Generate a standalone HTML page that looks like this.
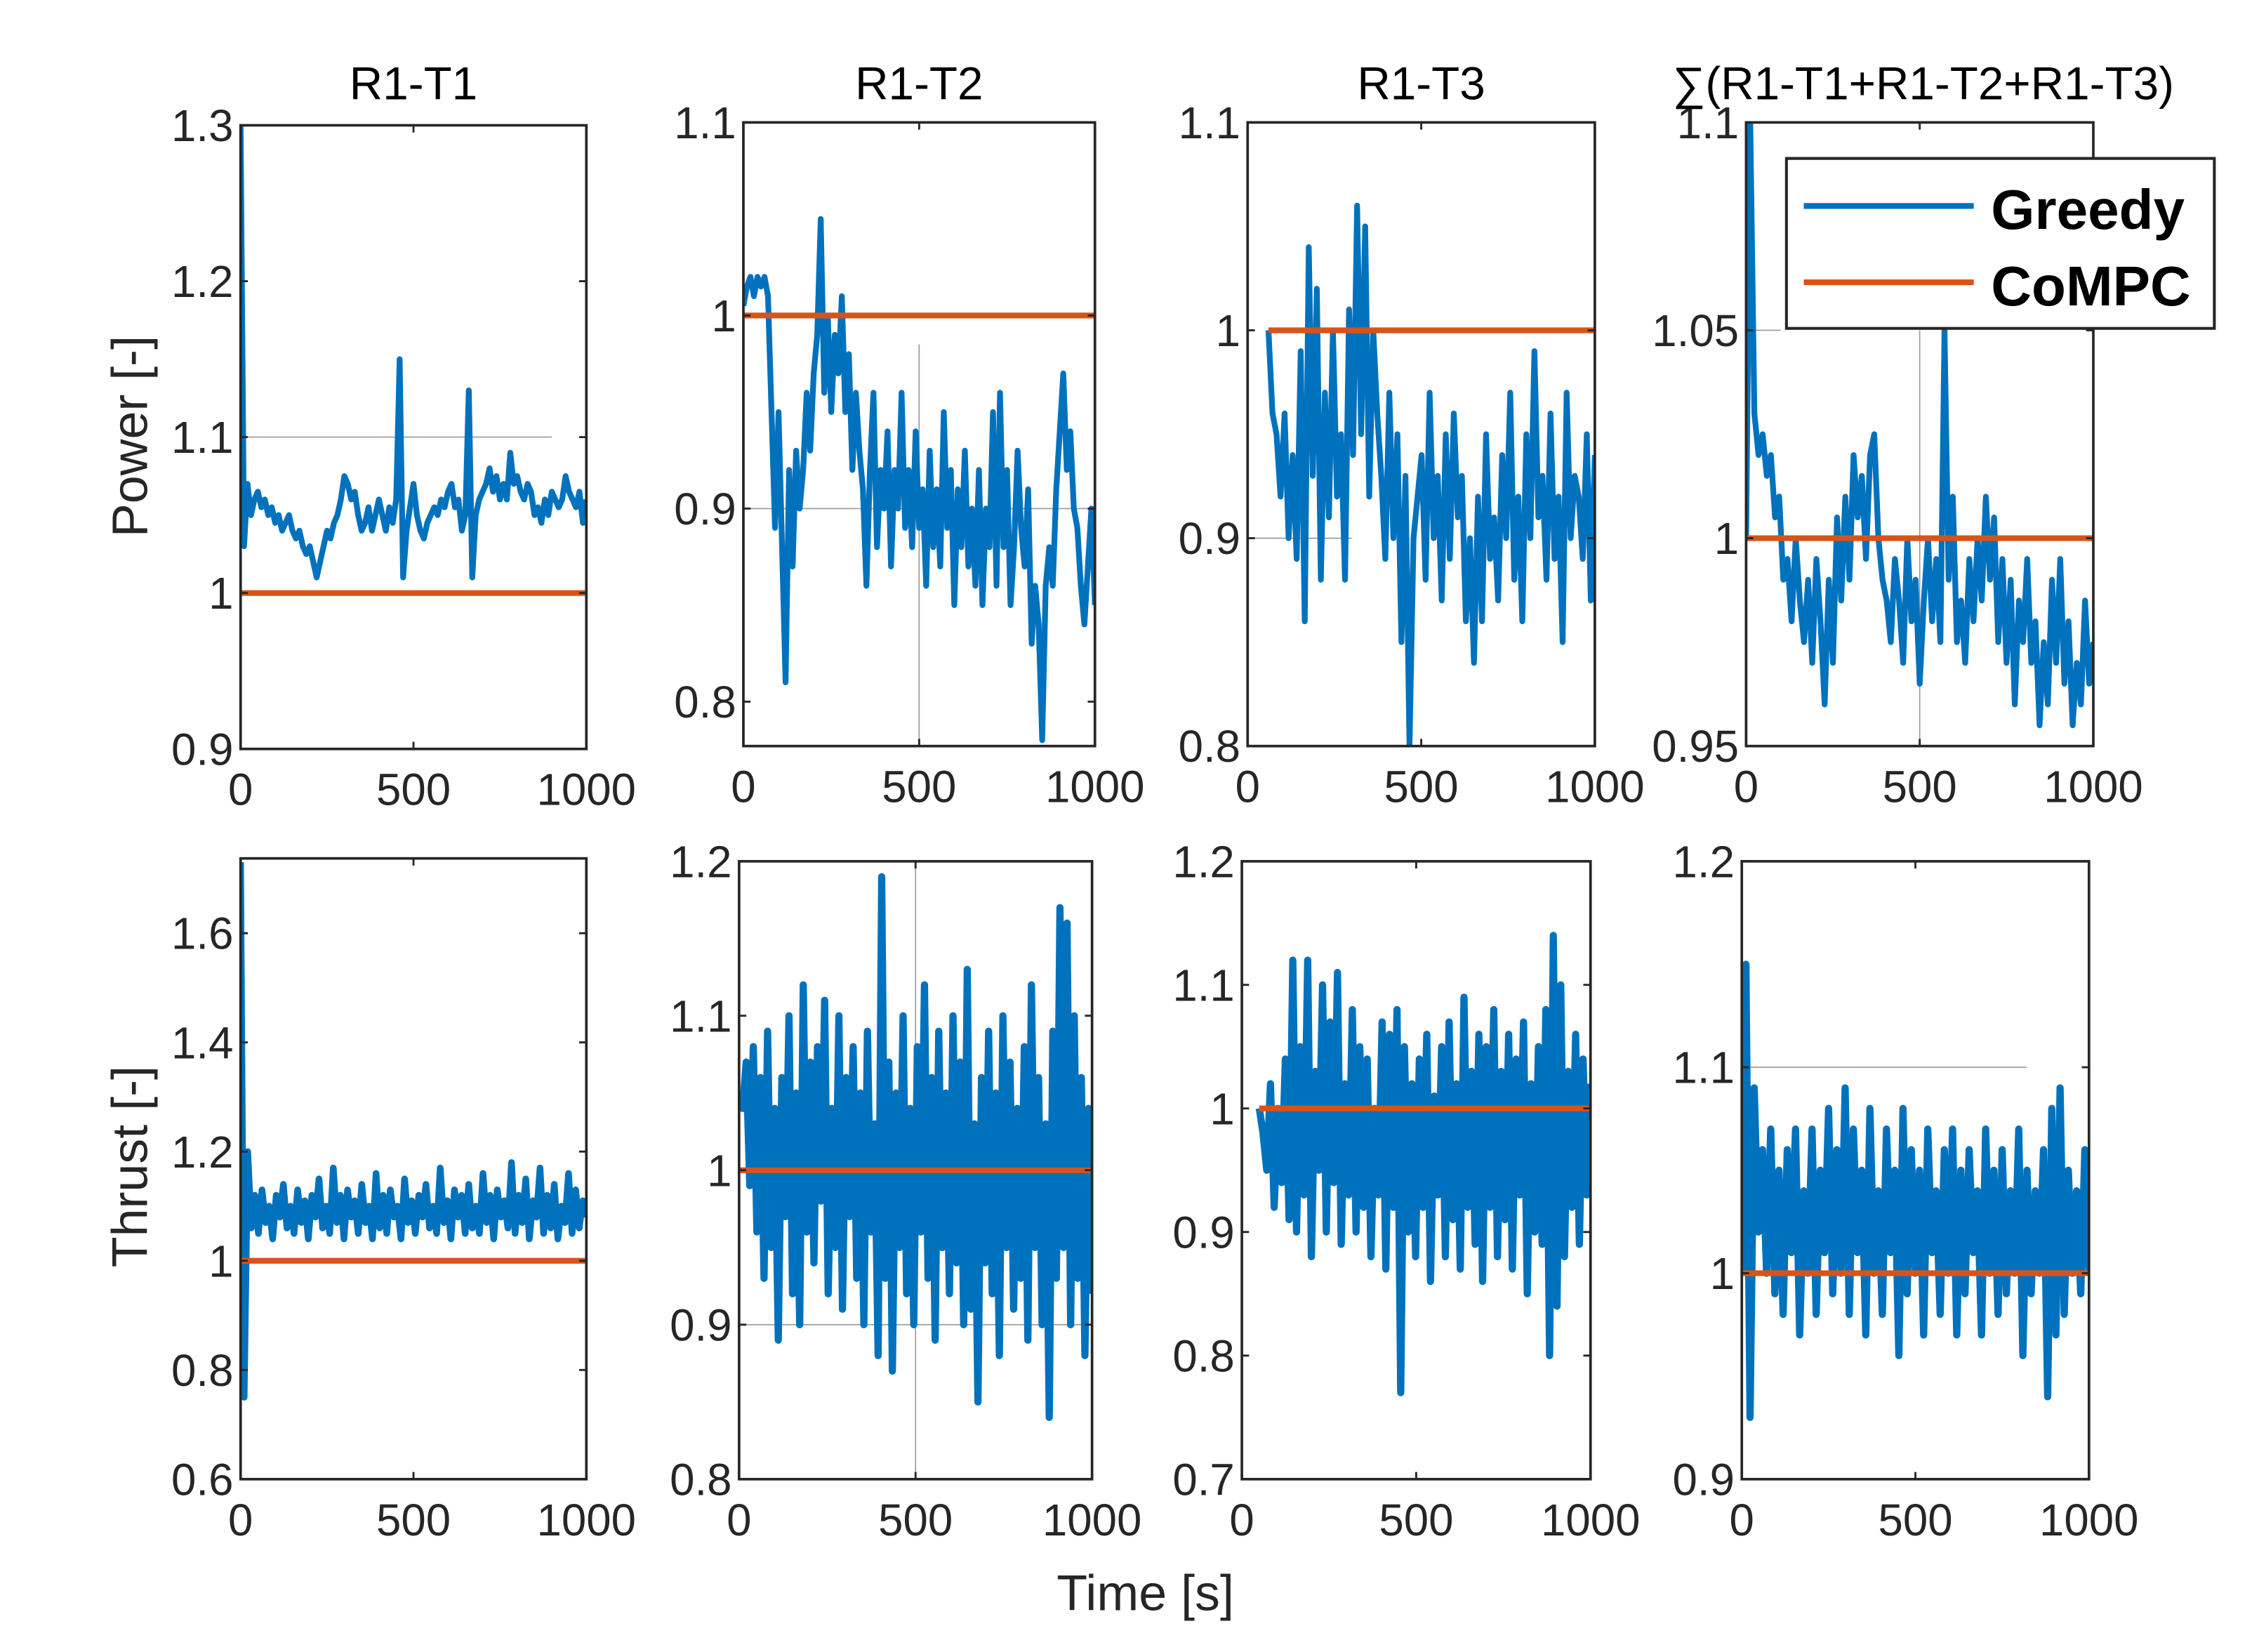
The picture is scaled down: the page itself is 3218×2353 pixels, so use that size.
<!DOCTYPE html>
<html><head><meta charset="utf-8"><style>
html,body{margin:0;padding:0;background:#fff;}
svg{display:block;}
text{font-family:"Liberation Sans",Arial,sans-serif;fill:#262626;}
</style></head><body>
<svg id="chart" width="3218" height="2353" viewBox="0 0 1568 1147" preserveAspectRatio="none" xmlns="http://www.w3.org/2000/svg">
<rect x="0" y="0" width="1568" height="1147" fill="#fff"/>
<text x="0" y="0" font-size="35" text-anchor="middle" transform="translate(102,303) rotate(-90)">Power [-]</text>
<text x="0" y="0" font-size="35" text-anchor="middle" transform="translate(102,810) rotate(-90)">Thrust [-]</text>
<text x="795" y="1118" font-size="35" text-anchor="middle">Time [s]</text>
<g id="panels"></g>
<g>
<rect x="1240" y="110" width="297" height="118" fill="#fff" stroke="#262626" stroke-width="2"/>
<line x1="1252" y1="143" x2="1370" y2="143" stroke="#0072BD" stroke-width="4"/>
<text x="1382" y="159" font-size="39" font-weight="bold" style="fill:#000">Greedy</text>
<line x1="1252" y1="196" x2="1370" y2="196" stroke="#D95319" stroke-width="4"/>
<text x="1382" y="212" font-size="39" font-weight="bold" style="fill:#000">CoMPC</text>
</g>
</svg>
<script>
// ---- data ----
const panelTitles = ["R1-T1","R1-T2","R1-T3","\u2211(R1-T1+R1-T2+R1-T3)"];
const xTicks = [0,500,1000];
const compcLevel = [1,1,1,1,1,1,1,1];
const startTimes = [0,0,60,0,0,0,50,0];
const yLims = [[0.9,1.3],[0.777,1.1],[0.8,1.1],[0.95,1.1],[0.6,1.737],[0.8,1.2],[0.7,1.2],[0.9,1.2]];
const yTicksP1 = [0.9,1,1.1,1.2,1.3];
const yTicksP2 = [0.8,0.9,1,1.1];
const yTicksP3 = [0.8,0.9,1,1.1];
const yTicksP4 = [0.95,1,1.05,1.1];
const yTicksT1 = [0.6,0.8,1,1.2,1.4,1.6];
const yTicksT2 = [0.8,0.9,1,1.1,1.2];
const yTicksT3 = [0.7,0.8,0.9,1,1.1,1.2];
const yTicksT4 = [0.9,1,1.1,1.2];
const greedyP1 = [1.30,1.03,1.07,1.05,1.06,1.065,1.055,1.06,1.05,1.055,1.045,1.05,1.04,1.045,1.05,1.04,1.035,1.04,1.03,1.025,1.03,1.02,1.01,1.02,1.03,1.04,1.035,1.045,1.05,1.06,1.075,1.07,1.06,1.065,1.05,1.04,1.045,1.055,1.04,1.05,1.06,1.05,1.04,1.055,1.045,1.06,1.15,1.01,1.04,1.055,1.07,1.05,1.04,1.035,1.045,1.05,1.055,1.05,1.06,1.055,1.065,1.07,1.055,1.06,1.04,1.05,1.13,1.01,1.05,1.06,1.065,1.07,1.08,1.065,1.075,1.06,1.07,1.06,1.09,1.07,1.075,1.065,1.06,1.07,1.065,1.05,1.055,1.045,1.06,1.05,1.065,1.06,1.055,1.06,1.075,1.065,1.06,1.055,1.065,1.045,1.06];
const greedyP2 = [1.005,1.015,1.02,1.01,1.02,1.015,1.02,1.01,0.95,0.89,0.95,0.88,0.81,0.92,0.87,0.93,0.9,0.92,0.96,0.93,0.97,0.99,1.05,0.96,1.0,0.95,0.99,0.97,1.01,0.95,0.98,0.92,0.96,0.93,0.91,0.86,0.92,0.96,0.88,0.92,0.9,0.94,0.87,0.92,0.9,0.96,0.89,0.92,0.88,0.94,0.89,0.91,0.86,0.93,0.88,0.91,0.87,0.95,0.89,0.92,0.85,0.91,0.88,0.93,0.87,0.9,0.86,0.92,0.85,0.9,0.88,0.95,0.86,0.96,0.88,0.92,0.85,0.88,0.93,0.89,0.87,0.91,0.83,0.86,0.84,0.78,0.86,0.88,0.86,0.91,0.94,0.97,0.92,0.94,0.9,0.89,0.86,0.84,0.87,0.9,0.85];
const greedyP3 = [1.0,0.96,0.95,0.92,0.96,0.9,0.94,0.89,0.99,0.86,1.04,0.93,1.02,0.88,0.97,0.91,1.0,0.92,0.95,0.88,1.01,0.94,1.06,0.95,1.05,0.92,1.0,0.96,0.93,0.89,0.97,0.9,0.95,0.85,0.93,0.8,0.9,0.92,0.94,0.88,0.97,0.9,0.93,0.87,0.95,0.89,0.96,0.91,0.93,0.86,0.9,0.84,0.92,0.86,0.95,0.89,0.91,0.87,0.94,0.9,0.97,0.88,0.92,0.86,0.95,0.9,0.99,0.91,0.93,0.88,0.96,0.89,0.92,0.85,0.97,0.9,0.93,0.92,0.89,0.95,0.87,0.94];
const greedyP4 = [1.0,1.1,1.03,1.02,1.025,1.015,1.02,1.005,1.01,0.99,0.995,0.98,1.0,0.985,0.975,0.99,0.97,0.995,0.98,0.96,0.99,0.97,1.005,0.985,1.01,0.99,1.02,1.005,1.015,0.995,1.02,1.025,1.0,0.99,0.985,0.975,0.995,0.985,0.97,1.0,0.98,0.99,0.965,0.985,1.0,0.98,0.995,0.975,1.05,0.99,1.01,0.975,0.985,0.97,0.995,0.98,1.0,0.985,1.01,0.99,1.005,0.975,0.995,0.97,0.99,0.96,0.985,0.975,0.995,0.97,0.98,0.955,0.975,0.96,0.99,0.97,0.995,0.965,0.98,0.955,0.97,0.96,0.985,0.965,0.975];
const greedyT1 = [1.73,0.75,1.2,1.06,1.12,1.05,1.13,1.07,1.1,1.04,1.12,1.08,1.14,1.06,1.1,1.05,1.13,1.07,1.11,1.04,1.12,1.08,1.15,1.06,1.1,1.05,1.17,1.07,1.12,1.04,1.13,1.08,1.11,1.05,1.14,1.07,1.1,1.04,1.16,1.06,1.12,1.05,1.13,1.08,1.1,1.04,1.15,1.07,1.11,1.05,1.12,1.08,1.14,1.06,1.1,1.05,1.17,1.07,1.11,1.04,1.13,1.08,1.12,1.05,1.14,1.06,1.1,1.05,1.16,1.07,1.12,1.04,1.13,1.08,1.11,1.06,1.18,1.05,1.12,1.07,1.15,1.04,1.11,1.08,1.17,1.05,1.12,1.06,1.14,1.04,1.1,1.07,1.16,1.05,1.13,1.06,1.11,1.08];
const greedyT2 = [1.05,1.04,1.07,0.99,1.08,0.96,1.06,0.93,1.09,0.95,1.04,0.89,1.06,0.97,1.1,0.92,1.05,0.9,1.12,0.96,1.07,0.94,1.08,0.98,1.11,0.92,1.04,0.95,1.1,0.91,1.06,0.97,1.08,0.93,1.05,0.9,1.09,0.96,1.03,0.88,1.19,0.93,1.07,0.87,1.05,0.95,1.1,0.92,1.04,0.9,1.08,0.96,1.12,0.93,1.06,0.89,1.09,0.95,1.05,0.92,1.1,0.94,1.07,0.9,1.13,0.91,1.03,0.85,1.06,0.94,1.09,0.92,1.05,0.88,1.1,0.95,1.07,0.91,1.04,0.93,1.08,0.89,1.12,0.95,1.06,0.9,1.03,0.84,1.09,0.93,1.17,0.95,1.16,0.9,1.1,0.93,1.06,0.88,1.04,0.92];
const greedyT3 = [1.0,0.98,0.95,1.02,0.92,1.0,0.94,1.04,0.91,1.12,0.9,1.05,0.93,1.12,0.88,1.03,0.95,1.1,0.9,1.07,0.94,1.11,0.89,1.02,0.93,1.08,0.9,1.05,0.92,1.04,0.88,1.0,0.93,1.07,0.87,1.06,0.92,1.08,0.77,1.05,0.9,1.02,0.88,1.04,0.92,1.06,0.86,1.01,0.93,1.05,0.88,1.07,0.91,1.02,0.87,1.09,0.92,1.03,0.89,1.06,0.86,1.05,0.92,1.08,0.88,1.03,0.91,1.06,0.87,1.04,0.93,1.07,0.85,1.02,0.9,1.05,0.89,1.08,0.8,1.14,0.84,1.1,0.88,1.03,0.92,1.06,0.89,1.04,0.93,1.02];
const greedyT4 = [1.0,1.15,0.93,1.09,1.02,1.06,1.0,1.07,0.99,1.05,0.98,1.06,1.01,1.07,0.97,1.04,1.0,1.07,0.98,1.05,1.01,1.08,0.99,1.06,1.0,1.09,0.98,1.07,1.01,1.05,0.97,1.08,1.0,1.04,0.98,1.07,1.01,1.05,0.96,1.08,0.99,1.06,1.0,1.05,0.97,1.07,1.01,1.04,0.98,1.06,1.0,1.07,0.97,1.05,0.99,1.06,1.01,1.04,0.97,1.07,1.0,1.05,0.98,1.06,0.99,1.04,1.0,1.07,0.96,1.05,0.99,1.04,1.0,1.06,0.94,1.08,0.97,1.09,0.98,1.05,1.0,1.04,0.99,1.06,1.0];

// ---- layout ----
const boxes = [[167,87,407,520],[516,85,760,518],[866,85,1107,518],[1212,85,1453,518],
               [167,596,407,1027],[513,598,758,1027],[862,598,1104,1027],[1209,598,1450,1027]];
const series = [greedyP1,greedyP2,greedyP3,greedyP4,greedyT1,greedyT2,greedyT3,greedyT4];
const tickSets = [yTicksP1,yTicksP2,yTicksP3,yTicksP4,yTicksT1,yTicksT2,yTicksT3,yTicksT4];
const names = ["power-r1-t1","power-r1-t2","power-r1-t3","power-sum","thrust-r1-t1","thrust-r1-t2","thrust-r1-t3","thrust-sum"];
const strokeW = [4,4,4,4,4.6,5,5,5];
const refLines = [[0,'h',1.1,0,900],[1,'v',500,0.777,0.985],[1,'h',0.9,0,1000],[2,'h',0.9,0,300],[3,'v',500,0.95,1.05],[3,'h',1.05,0,100],[5,'v',500,0.8,1.2],[5,'h',0.9,0,1000],[7,'h',1.1,0,820]];

const NS="http://www.w3.org/2000/svg";
const root=document.getElementById('panels');
function mk(tag,attrs,parent){const e=document.createElementNS(NS,tag);for(const k in attrs)e.setAttribute(k,attrs[k]);(parent||root).appendChild(e);return e;}
function fmt(v){return String(+v.toFixed(3));}

boxes.forEach((b,p)=>{
  const [x0,y0,x1,y1]=b;const [ymin,ymax]=yLims[p];
  const sx=t=>x0+(t/1000)*(x1-x0);
  const sy=v=>y1-(v-ymin)/(ymax-ymin)*(y1-y0);
  const g=mk('g',{});
  
  
  const clipId='clip'+p;
  const cp=mk('clipPath',{id:clipId},g);mk('rect',{x:x0,y:y0,width:x1-x0,height:y1-y0},cp);
  refLines.filter(r=>r[0]===p).forEach(r=>{
    let l;
    if(r[1]==='h') l=mk('line',{x1:sx(r[3]),x2:sx(r[4]),y1:sy(r[2]),y2:sy(r[2]),stroke:'#999',"stroke-width":0.8},g);
    else l=mk('line',{x1:sx(r[2]),x2:sx(r[2]),y1:sy(r[3]),y2:sy(r[4]),stroke:'#999',"stroke-width":0.8},g);
    
    
  });
  const vals=series[p];const t0=startTimes[p];
  const pts=vals.map((v,i)=>sx(t0+i*(1000-t0)/(vals.length-1)).toFixed(2)+','+sy(v).toFixed(2)).join(' ');
  const pl=mk('polyline',{points:pts,fill:'none',stroke:'#0072BD',"stroke-width":strokeW[p],"stroke-linejoin":'round',"clip-path":'url(#'+clipId+')'},g);
  
  
  const ol=mk('line',{x1:sx(t0),x2:x1,y1:sy(compcLevel[p]),y2:sy(compcLevel[p]),stroke:'#D95319',"stroke-width":4},g);
  
  
  const fr=mk('rect',{x:x0,y:y0,width:x1-x0,height:y1-y0,fill:'none',stroke:'#262626',"stroke-width":1.8},g);
  
  
  tickSets[p].forEach(v=>{
    const y=sy(v);
    mk('line',{x1:x0,x2:x0+5,y1:y,y2:y,stroke:'#262626',"stroke-width":1.4},g);
    mk('line',{x1:x1-5,x2:x1,y1:y,y2:y,stroke:'#262626',"stroke-width":1.4},g);
    const tx=mk('text',{x:x0-5,y:y+11,"font-size":31,"text-anchor":'end'},g);
    tx.textContent=fmt(v);
    
    
  });
  xTicks.forEach(t=>{
    const x=sx(t);
    mk('line',{x1:x,x2:x,y1:y1,y2:y1-5,stroke:'#262626',"stroke-width":1.4},g);
    mk('line',{x1:x,x2:x,y1:y0,y2:y0+5,stroke:'#262626',"stroke-width":1.4},g);
    const tx=mk('text',{x:x,y:y1+39,"font-size":31,"text-anchor":'middle'},g);
    tx.textContent=String(t);
    
    
  });
  if(p<4){
    const tt=mk('text',{x:(p===3?1335:(x0+x1)/2),y:69,"font-size":32,"text-anchor":'middle',style:'fill:#000'},g);
    tt.textContent=panelTitles[p];
    
    
  }
});
</script>
</body></html>
